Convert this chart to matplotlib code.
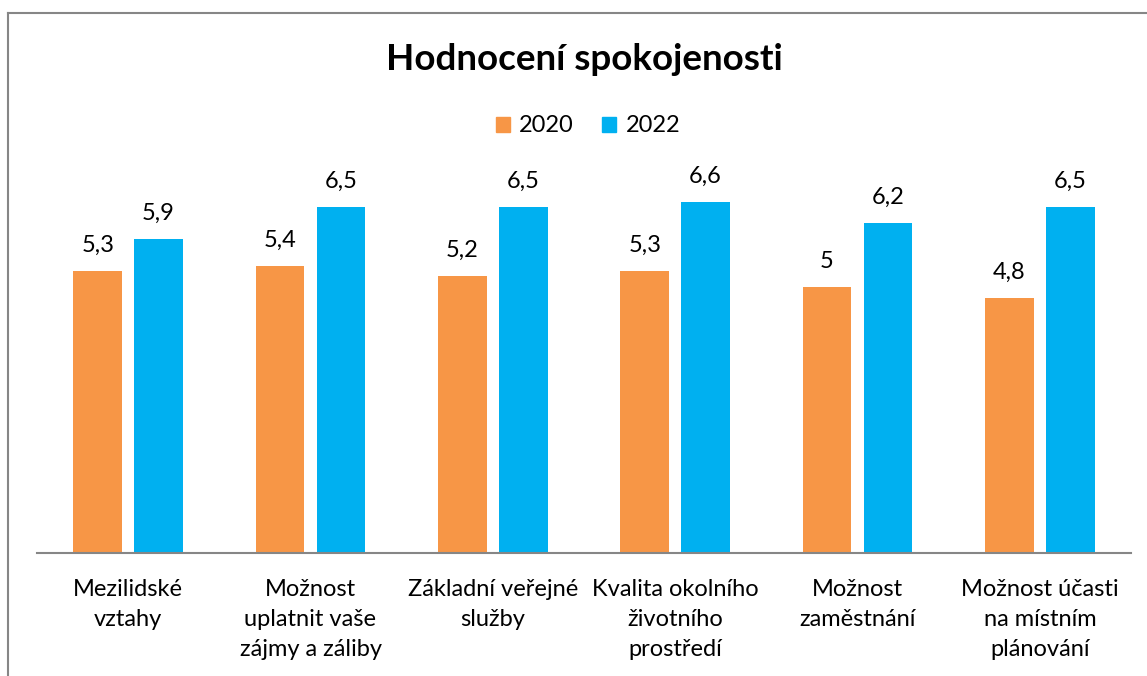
import numpy as np
import matplotlib
matplotlib.use("Agg")
import matplotlib.pyplot as plt
from matplotlib.lines import Line2D
from matplotlib.patches import Patch

plt.rcParams['font.family'] = ['Lato', 'DejaVu Sans']

categories = ["Mezilidské\nvztahy",
              "Možnost\nuplatnit vaše\nzájmy a záliby",
              "Základní veřejné\nslužby",
              "Kvalita okolního\nživotního\nprostředí",
              "Možnost\nzaměstnání",
              "Možnost účasti\nna místním\nplánování"]
values_2020 = [5.3, 5.4, 5.2, 5.3, 5.0, 4.8]
values_2022 = [5.9, 6.5, 6.5, 6.6, 6.2, 6.5]
series_names = ["2020", "2022"]

c2020 = "#F79646"
c2022 = "#00B0F0"
gray = "#868686"

W, H = 1147, 676
fig = plt.figure(figsize=(W / 100, H / 100), dpi=100)
ax = fig.add_axes([37 / W, (H - 553) / H, 1094 / W, 7 * 53.2 / H])

x = np.arange(len(categories))
bw = 0.268
off = 0.167
b1 = ax.bar(x - off, values_2020, bw, color=c2020)
b2 = ax.bar(x + off, values_2022, bw, color=c2022)

def fmt(v):
    s = ("%.1f" % v).replace(".", ",")
    return s[:-2] if s.endswith(",0") else s

for bars, vals in [(b1, values_2020), (b2, values_2022)]:
    for r, v in zip(bars, vals):
        ax.annotate(fmt(v), (r.get_x() + r.get_width() / 2, v),
                    xytext=(0, 11), textcoords="offset points",
                    ha="center", va="bottom", fontsize=17)

ax.set_xlim(-0.5, len(categories) - 0.5)
ax.set_ylim(0, 7)
ax.set_xticks(x)
ax.set_xticklabels(categories, fontsize=17, linespacing=1.52)
ax.tick_params(axis="x", length=0, pad=19)
ax.set_yticks([])
for s in ["top", "right", "left"]:
    ax.spines[s].set_visible(False)
ax.spines["bottom"].set_color(gray)
ax.spines["bottom"].set_linewidth(1.5)

fig.text(584 / W, 1 - 60 / H, "Hodnocení spokojenosti", ha="center",
         va="center", fontsize=26.5, fontweight="bold")

handles = [Patch(color=c2020), Patch(color=c2022)]
fig.legend(handles, series_names, loc="center", bbox_to_anchor=(588 / W, 1 - 126 / H),
           ncol=2, frameon=False, fontsize=17, handlelength=0.6, handleheight=0.6,
           handletextpad=0.4, columnspacing=1.2)

# chart border (cut off on the right and bottom)
fig.add_artist(Line2D([8 / W, 8 / W], [0, 1 - 13 / H], color=gray, lw=1.5,
                      transform=fig.transFigure))
fig.add_artist(Line2D([8 / W, 1], [1 - 13 / H, 1 - 13 / H], color=gray, lw=1.5,
                      transform=fig.transFigure))

fig.savefig("out.png", dpi=100)
